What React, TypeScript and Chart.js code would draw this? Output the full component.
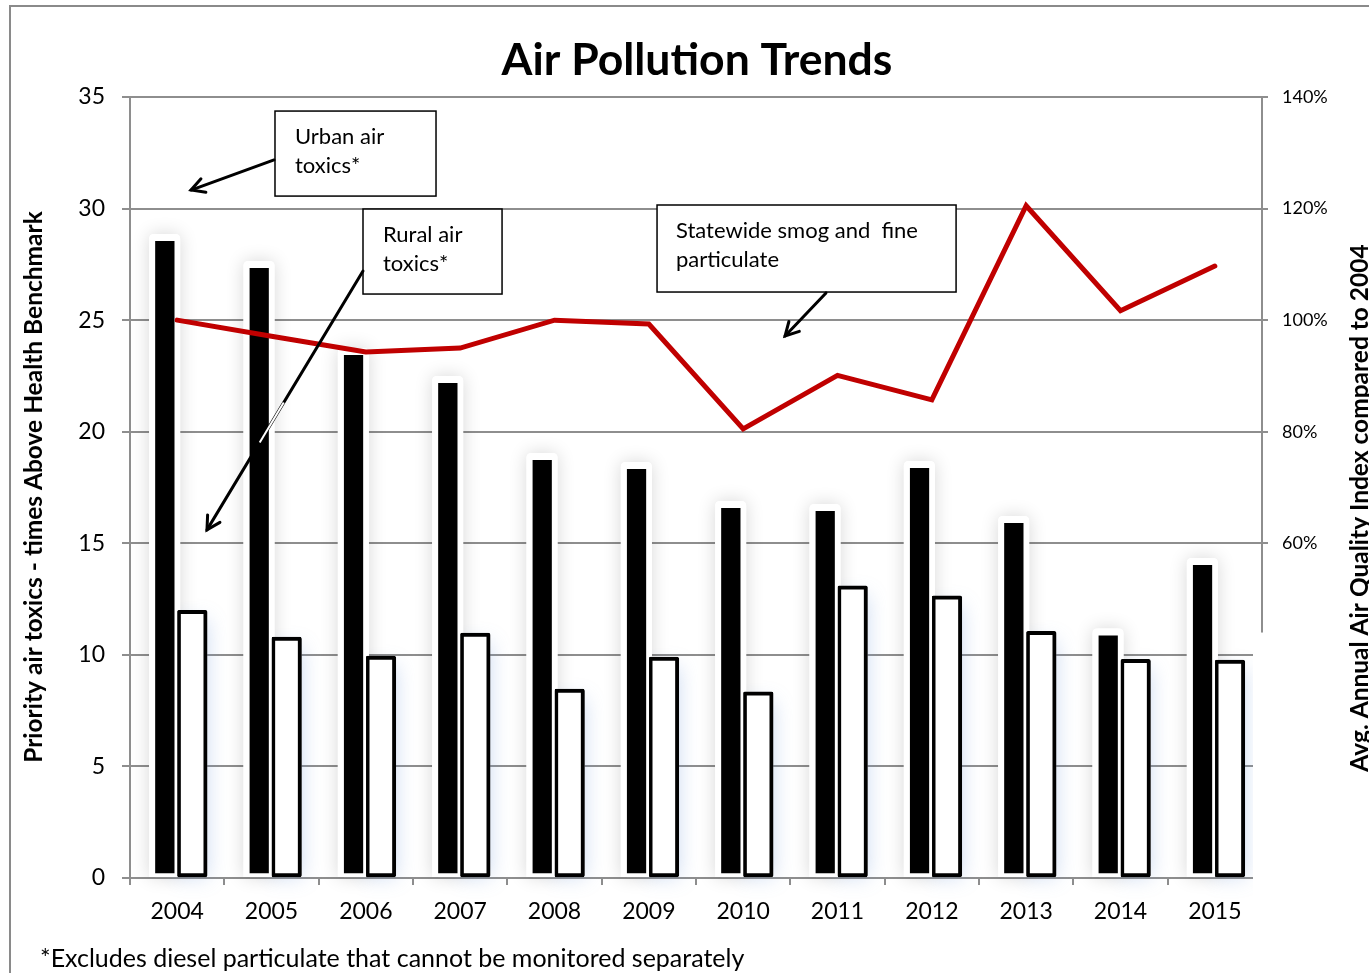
import React, { useEffect, useRef } from 'react';
import { Chart, registerables } from 'chart.js';

Chart.register(...registerables);

// ---------- data ----------
const years = ['2004', '2005', '2006', '2007', '2008', '2009', '2010', '2011', '2012', '2013', '2014', '2015'];
const urbanAirToxics = [28.55, 27.34, 23.44, 22.18, 18.73, 18.33, 16.58, 16.45, 18.37, 15.91, 10.87, 14.03];
const ruralAirToxics = [12.0, 10.8, 9.95, 10.98, 8.47, 9.9, 8.34, 13.09, 12.64, 11.05, 9.8, 9.77];
const smogAndFineParticulate = [100, 97.1, 94.3, 95.0, 100, 99.3, 80.5, 90.1, 85.7, 120.5, 101.7, 109.7];

const leftAxisRange = [0, 35];
const leftAxisStep = 5;
const rightAxisRange = [0, 140];
const rightAxisStep = 20;
const rightAxisHiddenBelow = 44;

const chartTitle = 'Air Pollution Trends';
const leftAxisTitle = 'Priority air toxics - times Above Health Benchmark';
const rightAxisTitle = 'Avg. Annual Air Quality Index compared to 2004';
const footnote = '*Excludes diesel particulate that cannot be monitored separately';

// callouts, positioned in data units (category index, left-axis value)
const calloutLines = [['Urban air', 'toxics*'], ['Rural air', 'toxics*'], ['Statewide smog and  fine', 'particulate']];
const calloutBoxX = [[1.037, 2.744], [1.97, 3.444], [5.087, 8.257]];
const calloutBoxY = [[34.37, 30.56], [29.98, 26.17], [30.16, 26.26]];
const calloutTextX = [1.249, 2.182, 5.288];
const calloutBaselines = [[32.89, 31.59], [28.5, 27.2], [28.68, 27.38]];
const calloutArrows = [[1.027, 32.18, 0.147, 30.83], [1.97, 27.2, 0.316, 15.6], [6.878, 26.22, 6.444, 24.29]];
// portion of the rural arrow that shows as a white stroke (fraction along the arrow)
const ruralArrowWhiteSpan = [0.508, 0.662];

const FONT = 'Lato';
const GRID = '#8e8e8e';

function drawArrow(ctx: CanvasRenderingContext2D, x0: number, y0: number, x1: number, y1: number) {
  ctx.beginPath();
  ctx.moveTo(x0, y0);
  ctx.lineTo(x1, y1);
  ctx.stroke();
  const a = Math.atan2(y1 - y0, x1 - x0);
  const L = 15;
  const sp = 0.5;
  ctx.beginPath();
  ctx.moveTo(x1 - L * Math.cos(a - sp), y1 - L * Math.sin(a - sp));
  ctx.lineTo(x1, y1);
  ctx.lineTo(x1 - L * Math.cos(a + sp), y1 - L * Math.sin(a + sp));
  ctx.stroke();
}

function roundRectPath(ctx: CanvasRenderingContext2D, x: number, y: number, w: number, h: number, r: number) {
  ctx.beginPath();
  ctx.moveTo(x + r, y);
  ctx.lineTo(x + w - r, y);
  ctx.quadraticCurveTo(x + w, y, x + w, y + r);
  ctx.lineTo(x + w, y + h);
  ctx.lineTo(x, y + h);
  ctx.lineTo(x, y + r);
  ctx.quadraticCurveTo(x, y, x + r, y);
  ctx.closePath();
}

const haloPlugin = {
  id: 'halo',
  beforeDatasetsDraw(chart: any) {
    const ctx: CanvasRenderingContext2D = chart.ctx;
    const urbanMeta = chart.getDatasetMeta(1);
    const ruralMeta = chart.getDatasetMeta(2);
    ctx.save();
    ruralMeta.data.forEach((el: any) => {
      const { x, y, base, width } = el.getProps(['x', 'y', 'base', 'width'], true);
      ctx.shadowColor = 'rgba(110,150,215,0.35)';
      ctx.shadowBlur = 20;
      ctx.fillStyle = '#fff';
      ctx.fillRect(x - width / 2, y + 10, width, base - y - 10);
    });
    urbanMeta.data.forEach((el: any) => {
      const { x, y, base, width } = el.getProps(['x', 'y', 'base', 'width'], true);
      const left = x - width / 2 - 6;
      const right = x + width / 2 - 3 + 6;
      ctx.shadowColor = 'rgba(0,0,0,0.16)';
      ctx.shadowBlur = 18;
      ctx.fillStyle = '#fff';
      roundRectPath(ctx, left, y - 7, right - left, base - y + 7, 5);
      ctx.fill();
    });
    ctx.shadowColor = 'rgba(0,0,0,0)';
    ctx.shadowBlur = 0;
    urbanMeta.data.forEach((el: any) => {
      const { x, y, base, width } = el.getProps(['x', 'y', 'base', 'width'], true);
      const left = x - width / 2 - 6;
      const right = x + width / 2 - 3 + 6;
      ctx.fillStyle = '#fff';
      roundRectPath(ctx, left, y - 7, right - left, base - y + 7, 5);
      ctx.fill();
    });
    ctx.restore();
  },
};

const decorPlugin = {
  id: 'decor',
  afterDraw(chart: any) {
    const ctx: CanvasRenderingContext2D = chart.ctx;
    const { x, y, y1 } = chart.scales;
    const area = chart.chartArea;
    const X = (v: number) => x.getPixelForValue(v);
    const Y = (v: number) => y.getPixelForValue(v);
    ctx.save();

    // white cover hiding lower part of right axis
    const coverTop = y1.getPixelForValue(rightAxisHiddenBelow);
    ctx.fillStyle = '#fff';
    ctx.fillRect(area.right - 9, coverTop, 93, area.bottom + 17 - coverTop);

    // callouts
    calloutLines.forEach((lines, i) => {
      const bx0 = X(calloutBoxX[i][0]);
      const bx1 = X(calloutBoxX[i][1]);
      const by0 = Y(calloutBoxY[i][0]);
      const by1 = Y(calloutBoxY[i][1]);
      ctx.fillStyle = '#fff';
      ctx.fillRect(bx0, by0, bx1 - bx0, by1 - by0);
      ctx.strokeStyle = '#000';
      ctx.lineWidth = 1.5;
      ctx.strokeRect(bx0, by0, bx1 - bx0, by1 - by0);
      ctx.fillStyle = '#000';
      ctx.font = `22px ${FONT}`;
      ctx.textAlign = 'left';
      ctx.textBaseline = 'alphabetic';
      lines.forEach((t, j) => ctx.fillText(t, X(calloutTextX[i]), Y(calloutBaselines[i][j])));
      const a = calloutArrows[i];
      ctx.lineWidth = 3;
      ctx.lineCap = 'round';
      ctx.strokeStyle = '#000';
      const ax0 = X(a[0]), ay0 = Y(a[1]), ax1 = X(a[2]), ay1 = Y(a[3]);
      drawArrow(ctx, ax0, ay0, ax1, ay1);
      if (i === 1) {
        const [t0, t1] = ruralArrowWhiteSpan;
        ctx.strokeStyle = '#fff';
        ctx.lineWidth = 2;
        ctx.lineCap = 'butt';
        ctx.beginPath();
        ctx.moveTo(ax0 + (ax1 - ax0) * t0, ay0 + (ay1 - ay0) * t0);
        ctx.lineTo(ax0 + (ax1 - ax0) * t1, ay0 + (ay1 - ay0) * t1);
        ctx.stroke();
      }
    });

    // titles
    ctx.fillStyle = '#000';
    ctx.textAlign = 'center';
    ctx.textBaseline = 'alphabetic';
    ctx.font = `bold 44.5px ${FONT}`;
    ctx.fillText(chartTitle, 697, 75);

    ctx.font = `bold 24.5px ${FONT}`;
    ctx.save();
    ctx.translate(42, 487);
    ctx.rotate(-Math.PI / 2);
    ctx.fillText(leftAxisTitle, 0, 0);
    ctx.restore();

    ctx.save();
    ctx.translate(1368, 508);
    ctx.rotate(-Math.PI / 2);
    ctx.fillText(rightAxisTitle, 0, 0);
    ctx.restore();

    ctx.textAlign = 'left';
    ctx.font = `25px ${FONT}`;
    ctx.fillText(footnote, 40, 967);

    // outer frame
    ctx.strokeStyle = '#8a8a8a';
    ctx.lineWidth = 2;
    ctx.strokeRect(10, 6, 2000, 2000);
    ctx.restore();
  },
};

export default function App() {
  const ref = useRef<HTMLCanvasElement>(null);
  useEffect(() => {
    Chart.defaults.font.family = FONT;
    const chart = new Chart(ref.current!, {
      type: 'bar',
      data: {
        labels: years,
        datasets: [
          {
            type: 'line',
            label: 'Statewide smog and fine particulate',
            data: smogAndFineParticulate,
            yAxisID: 'y1',
            borderColor: '#C00000',
            borderWidth: 5,
            pointRadius: 0,
            tension: 0,
            borderCapStyle: 'round',
            order: 0,
          } as any,
          {
            label: 'Urban air toxics*',
            data: urbanAirToxics,
            yAxisID: 'y',
            backgroundColor: '#000',
            borderColor: '#fff',
            borderWidth: { top: 0, right: 3, bottom: 4, left: 0 },
            borderSkipped: false,
            barThickness: 22,
            order: 1,
          },
          {
            label: 'Rural air toxics*',
            data: ruralAirToxics,
            yAxisID: 'y',
            backgroundColor: '#fff',
            borderColor: '#000',
            borderWidth: 4,
            borderSkipped: false,
            borderRadius: 2,
            barThickness: 30,
            order: 2,
          },
        ],
      },
      options: {
        responsive: false,
        devicePixelRatio: 1,
        animation: false,
        layout: { padding: { top: 97, left: 0, right: 0, bottom: 0 } },
        plugins: { legend: { display: false }, tooltip: { enabled: false }, title: { display: false } },
        scales: {
          x: {
            type: 'category',
            offset: true,
            grid: { offset: true, drawOnChartArea: false, drawTicks: true, tickLength: 7, color: GRID, lineWidth: 2 },
            border: { color: GRID, width: 2 },
            ticks: { font: { size: 23 }, color: '#000', padding: 13, maxRotation: 0, autoSkip: false },
            afterFit: (s: any) => { s.height = 95; },
          },
          y: {
            position: 'left',
            min: leftAxisRange[0],
            max: leftAxisRange[1],
            ticks: { stepSize: leftAxisStep, font: { size: 23 }, color: '#000', padding: 17 },
            grid: { color: GRID, lineWidth: 2, tickLength: 8 },
            border: { color: GRID, width: 2 },
            afterFit: (s: any) => { s.width = 130; },
          },
          y1: {
            position: 'right',
            min: rightAxisRange[0],
            max: rightAxisRange[1],
            ticks: { stepSize: rightAxisStep, font: { size: 18 }, color: '#000', padding: 14, callback: (v: any) => `${v}%` },
            grid: { drawOnChartArea: false, tickLength: 6, color: GRID, lineWidth: 2 },
            border: { color: GRID, width: 2 },
            afterFit: (s: any) => { s.width = 107; },
          },
        },
      },
      plugins: [haloPlugin, decorPlugin],
    } as any);
    return () => chart.destroy();
  }, []);
  return (
    <div style={{ position: 'fixed', left: 0, top: 0, width: 1369, height: 973, background: '#fff' }}>
      <canvas ref={ref} width={1369} height={973} style={{ display: 'block' }} />
    </div>
  );
}
